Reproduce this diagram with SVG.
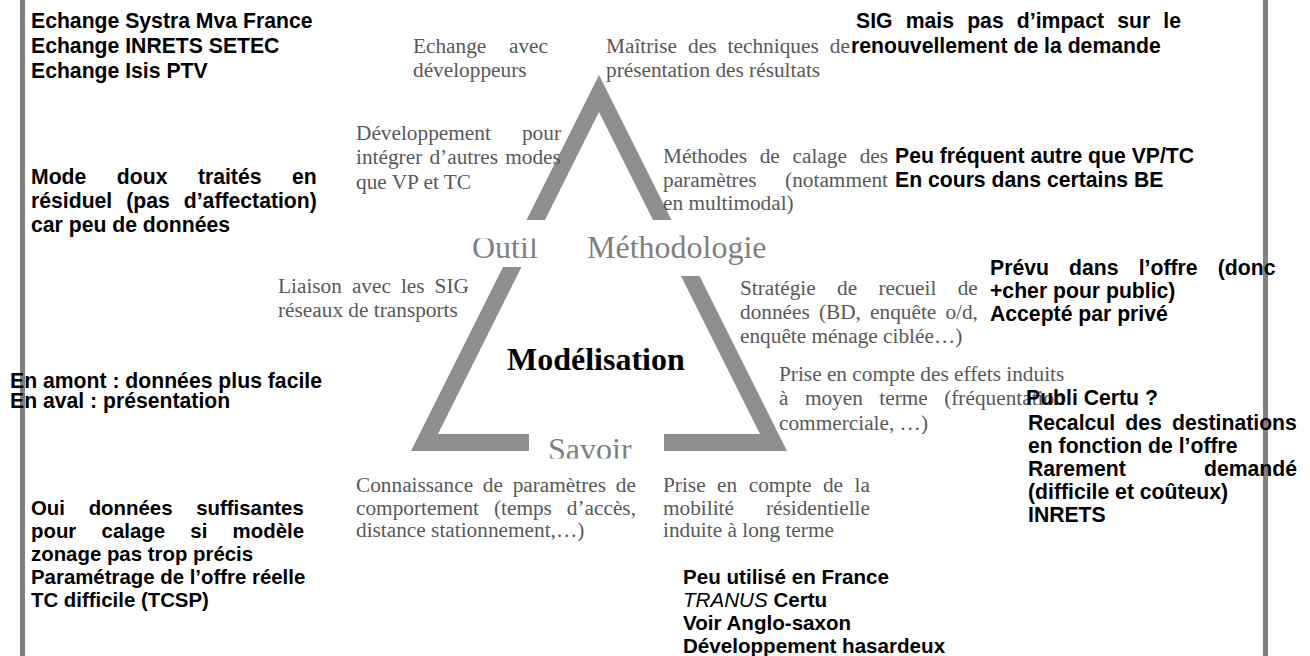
<svg xmlns="http://www.w3.org/2000/svg" width="1310" height="656" viewBox="0 0 1310 656">
<style>
.g{font-family:'Liberation Serif','Times New Roman',serif;font-size:21.3px;fill:#595959}
.b{font-family:'Liberation Sans',Arial,sans-serif;font-size:21.2px;font-weight:bold;fill:#000}
.b2{font-family:'Liberation Sans',Arial,sans-serif;font-size:20.4px;font-weight:bold;fill:#000}
.b3{font-family:'Liberation Sans',Arial,sans-serif;font-size:20.6px;font-weight:bold;fill:#000}
.big{font-family:'Liberation Serif','Times New Roman',serif;font-size:32px;fill:#7f7f7f}
.tri{fill:#8f8f8f}
.bar{fill:#808080}
.e{text-anchor:end}
</style>
<defs>
<clipPath id="clipTop"><rect x="400" y="238.5" width="200" height="40"/></clipPath>
<clipPath id="clipBot"><rect x="500" y="420" width="200" height="38.5"/></clipPath>
</defs>
<rect width="1310" height="656" fill="#fff"/>
<g id="frame">
<rect class="bar" x="20" y="0" width="5" height="656"/>
<rect class="bar" x="1263" y="0" width="5" height="656"/>
</g>
<g id="triangle">
<polygon class="tri" points="599,75 671.5,220 653,220 599,112 545,220 526.5,220"/>
<polygon class="tri" points="503,267 521.5,267 438,434 529,434 529,451 411,451"/>
<polygon class="tri" points="681,276 699.5,276 787,451 664,451 664,434 760,434"/>
</g>
<g id="connectors"></g>
<g id="n-outil"><text class="big" x="472" y="258" clip-path="url(#clipTop)">Outil</text></g>
<g id="n-methodologie"><text class="big" x="587" y="258">Méthodologie</text></g>
<g id="n-savoir"><text class="big" x="548" y="460" clip-path="url(#clipBot)">Savoir</text></g>
<g id="n-modelisation"><text x="507" y="370" style="font-family:'Liberation Serif','Times New Roman',serif;font-size:32px;font-weight:bold;fill:#000">Modélisation</text></g>

<g id="n-echange-dev">
<text class="g" x="413" y="53">Echange</text><text class="g e" x="548" y="53">avec</text>
<text class="g" x="413" y="77">développeurs</text>
</g>
<g id="n-maitrise">
<text class="g" x="606" y="53" style="word-spacing:5.8px">Maîtrise des techniques de</text>
<text class="g" x="606" y="77">présentation des résultats</text>
</g>
<g id="n-developpement">
<text class="g" x="356" y="140">Développement</text><text class="g e" x="561" y="140">pour</text>
<text class="g" x="356" y="164" style="word-spacing:1.9px">intégrer d’autres modes</text>
<text class="g" x="356" y="189">que VP et TC</text>
</g>
<g id="n-methodes">
<text class="g" x="663" y="163" style="word-spacing:7.4px">Méthodes de calage des</text>
<text class="g" x="663" y="187">paramètres</text><text class="g e" x="888" y="187">(notamment</text>
<text class="g" x="663" y="210">en multimodal)</text>
</g>
<g id="n-liaison">
<text class="g" x="278" y="293" style="word-spacing:4.7px">Liaison avec les SIG</text>
<text class="g" x="278" y="317">réseaux de transports</text>
</g>
<g id="n-strategie">
<text class="g" x="740" y="295" style="word-spacing:16px">Stratégie de recueil de</text>
<text class="g" x="740" y="319" style="word-spacing:3.8px">données (BD, enquête o/d,</text>
<text class="g" x="740" y="343">enquête ménage ciblée…)</text>
</g>
<g id="n-effets">
<text class="g" x="779" y="381">Prise en compte des effets induits</text>
<text class="g" x="779" y="405" style="word-spacing:11.1px">à moyen terme (fréquentation</text>
<text class="g" x="779" y="430">commerciale, …)</text>
</g>
<g id="n-connaissance">
<text class="g" x="356" y="492" style="word-spacing:4.4px">Connaissance de paramètres de</text>
<text class="g" x="356" y="515" style="word-spacing:9.6px">comportement (temps d’accès,</text>
<text class="g" x="356" y="537">distance stationnement,…)</text>
</g>
<g id="n-mobilite">
<text class="g" x="663" y="492" style="word-spacing:6.2px">Prise en compte de la</text>
<text class="g" x="663" y="515">mobilité</text><text class="g e" x="870" y="515">résidentielle</text>
<text class="g" x="663" y="537">induite à long terme</text>
</g>

<g id="c-echanges">
<text class="b" x="31" y="28">Echange Systra Mva France</text>
<text class="b" x="31" y="53">Echange INRETS SETEC</text>
<text class="b" x="31" y="78">Echange Isis PTV</text>
</g>
<g id="c-sig">
<text class="b" x="856" y="28" style="word-spacing:7.3px">SIG mais pas d’impact sur le</text>
<text class="b" x="851" y="53">renouvellement de la demande</text>
</g>
<g id="c-mode-doux">
<text class="b" x="31" y="184" style="word-spacing:24.6px">Mode doux traités en</text>
<text class="b" x="31" y="208" style="word-spacing:8.1px">résiduel (pas d’affectation)</text>
<text class="b" x="31" y="232">car peu de données</text>
</g>
<g id="c-peu-frequent">
<text class="b" x="895" y="163">Peu fréquent autre que VP/TC</text>
<text class="b" x="895" y="187">En cours dans certains BE</text>
</g>
<g id="c-prevu">
<text class="b" x="990" y="275" style="word-spacing:14.3px">Prévu dans l’offre (donc</text>
<text class="b" x="990" y="298">+cher pour public)</text>
<text class="b" x="990" y="321">Accepté par privé</text>
</g>
<g id="c-amont">
<text class="b" x="10" y="388">En amont : données plus facile</text>
<text class="b" x="10" y="408">En aval : présentation</text>
</g>
<g id="c-publi">
<text class="b" x="1026" y="405">Publi Certu ?</text>
<text class="b" x="1028" y="430" style="word-spacing:4.3px">Recalcul des destinations</text>
<text class="b" x="1028" y="453">en fonction de l’offre</text>
<text class="b" x="1028" y="476">Rarement</text><text class="b e" x="1297" y="476">demandé</text>
<text class="b" x="1028" y="499">(difficile et coûteux)</text>
<text class="b" x="1028" y="522">INRETS</text>
</g>
<g id="c-oui">
<text class="b2" x="31" y="515" style="word-spacing:18px">Oui données suffisantes</text>
<text class="b2" x="31" y="538" style="word-spacing:19.6px">pour calage si modèle</text>
<text class="b2" x="31" y="561">zonage pas trop précis</text>
<text class="b2" x="31" y="584">Paramétrage de l’offre réelle</text>
<text class="b2" x="31" y="607">TC difficile (TCSP)</text>
</g>
<g id="c-peu-utilise">
<text class="b3" x="683" y="584">Peu utilisé en France</text>
<text class="b3" x="683" y="607"><tspan style="font-style:italic;font-weight:normal">TRANUS</tspan> Certu</text>
<text class="b3" x="683" y="630">Voir Anglo-saxon</text>
<text class="b3" x="683" y="653">Développement hasardeux</text>
</g>
</svg>
